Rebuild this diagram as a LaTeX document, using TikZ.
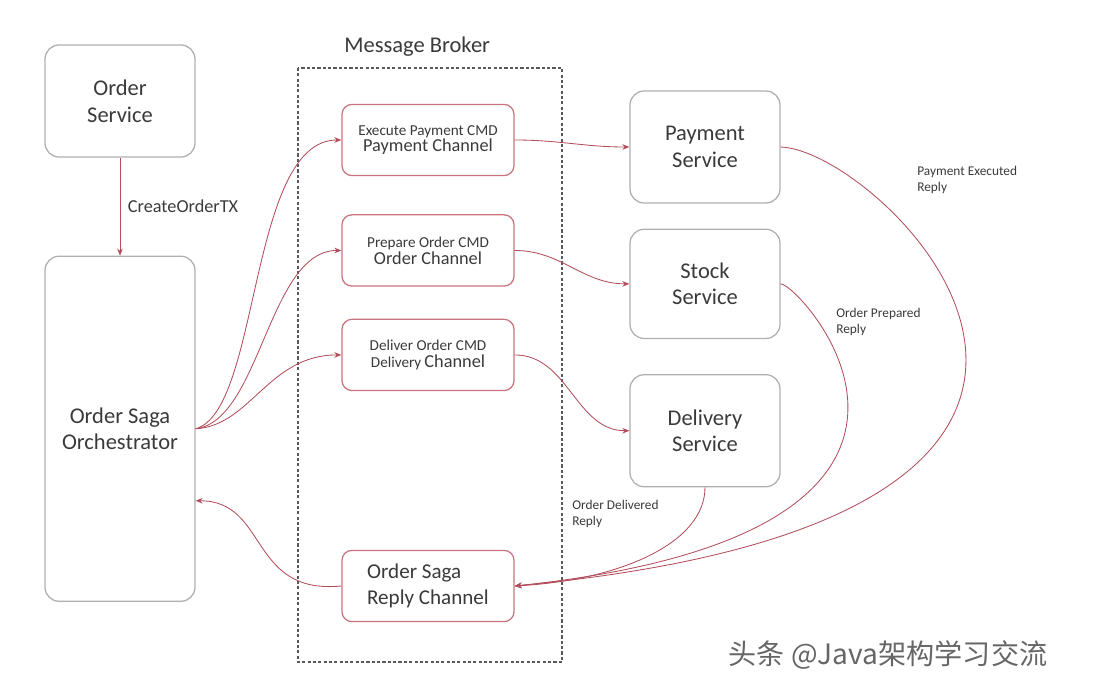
\documentclass[tikz,border=0pt]{standalone}
\usepackage{fontspec}
\setmainfont{Carlito}
\newfontfamily\cjk{Noto Sans CJK SC}
\usepackage{tikz}
\usetikzlibrary{arrows.meta, positioning}

\definecolor{linkred}{RGB}{178,78,92}
\definecolor{chanred}{RGB}{200,115,125}
\definecolor{boxgray}{RGB}{175,175,175}
\definecolor{txtgray}{RGB}{58,58,58}

\newcommand{\chbig}[1]{{\fontsize{13}{15}\selectfont #1}}
\newcommand{\chsmall}[1]{{\fontsize{10.8}{12}\selectfont #1}}

\begin{document}
\begin{tikzpicture}[
  text=txtgray,
  svc/.style={draw=boxgray, line width=0.9pt, rounded corners=10pt, minimum width=3.75cm, minimum height=2.8cm, align=center, font=\fontsize{16}{19}\selectfont},
  chan/.style={draw=chanred, line width=0.9pt, rounded corners=7pt, minimum width=4.3cm, minimum height=1.78cm, align=center},
  arr/.style={-{Stealth[length=5pt, width=4pt]}, draw=linkred, line width=0.6pt},
  lbl/.style={anchor=north west, inner sep=0pt, align=left, font=\fontsize{9.5}{11.5}\selectfont}
]
  \useasboundingbox (0,0) rectangle (27.5,-17.3);

  % left column
  \node[svc] (ordsvc) at (3.0,-2.525) {Order\\Service};
  \node[svc, minimum height=8.625cm, below=2.45cm of ordsvc] (orch) {Order Saga\\Orchestrator};

  % message broker
  \draw[draw=black!65, line width=1pt, dash pattern=on 2.2pt off 1.6pt] (7.45,-1.7) rectangle (14.05,-16.55);
  \node[font=\fontsize{16}{19}\selectfont] (broker) at (10.43,-1.175) {Message Broker};
  \node[chan] (paych) at (10.7,-3.5) {\chsmall{Execute Payment CMD}\\\chbig{Payment Channel}};
  \node[chan, below=0.95cm of paych] (ordch) {\chsmall{Prepare Order CMD}\\\chbig{Order Channel}};
  \node[chan, below=0.8cm of ordch] (delch) {\chsmall{Deliver Order CMD}\\\chsmall{Delivery} \chbig{Channel}};
  \node[chan, align=left, font=\fontsize{15}{18}\selectfont] (replych) at (10.7,-14.65) {Order Saga\\Reply Channel};

  % services
  \node[svc] (paysvc) at (17.625,-3.675) {Payment\\Service};
  \node[svc, minimum height=2.73cm, below=0.625cm of paysvc] (stocksvc) {Stock\\Service};
  \node[svc, below=0.875cm of stocksvc] (delsvc) {Delivery\\Service};

  % commands
  \draw[arr] (ordsvc) -- node[right=2pt, font=\fontsize{13}{15}\selectfont] (txlbl) {CreateOrderTX} (orch);
  \draw[arr] (orch.east) .. controls +(1.625,0.45) and +(-2.325,0) .. (paych.west);
  \draw[arr] (orch.east) .. controls +(1.625,0.2) and +(-1.825,0) .. (ordch.west);
  \draw[arr] (orch.east) .. controls +(1.375,0.075) and +(-1.825,0) .. (delch.west);
  \foreach \a/\b in {paych/paysvc, ordch/stocksvc, delch/delsvc}
    \draw[arr] (\a.east) to[out=0, in=180] (\b.west);

  % replies
  \draw[arr] (paysvc.east) .. controls +(2.6,-0.075) and +(18.5,1.75) .. (replych.east);
  \draw[arr] (stocksvc.east) .. controls +(0.5,0) and +(12.8,1.35) .. (replych.east);
  \draw[arr] (delsvc.south) .. controls +(0,-1.375) and +(2.675,0.15) .. (replych.east);
  \draw[arr] (replych.west) .. controls +(-2.325,-0.225) and +(1.825,0) .. ([yshift=-1.8cm]orch.east);

  \node[lbl] (payrep) at (22.925,-4.15) {Payment Executed\\Reply};
  \node[lbl] (ordrep) at (20.9,-7.7) {Order Prepared\\Reply};
  \node[lbl] (delrep) at (14.3,-12.5) {Order Delivered\\Reply};

  \node[text=black!60, font=\cjk\fontsize{20}{23}\selectfont] (mark) at (22.2,-16.375) {头条 @Java架构学习交流};
\end{tikzpicture}
\end{document}
